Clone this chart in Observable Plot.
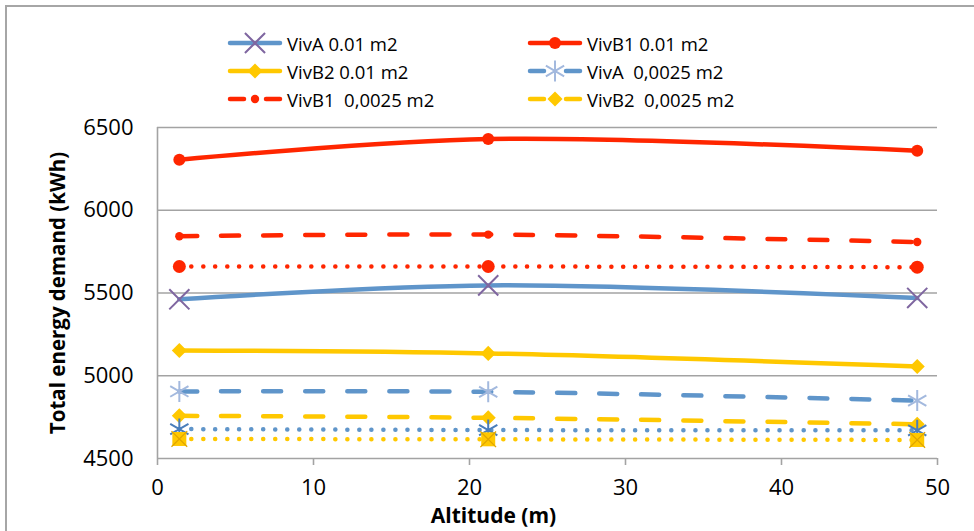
<!DOCTYPE html>
<html><head><meta charset="utf-8">
<script src="https://cdn.jsdelivr.net/npm/d3@7"></script>
<script src="https://cdn.jsdelivr.net/npm/@observablehq/plot@0.6"></script>
<style>
body{margin:0;background:#fff;font-family:"Open Sans",sans-serif;}
#wrap{position:relative;width:974px;height:531px;overflow:hidden;background:#fff;}
#frame{position:absolute;left:5px;top:5px;width:1100px;height:700px;border-left:2px solid #a6a6a6;border-top:2px solid #a6a6a6;pointer-events:none;}
#legend{position:relative;height:110px;}
.item{position:absolute;display:flex;align-items:center;height:28px;font-size:18.5px;color:#000;white-space:pre;}
.item svg{margin-right:5px;overflow:visible;}
#chart svg{display:block;}
</style></head><body>
<div id="wrap"><div id="frame"></div><div id="legend"></div><div id="chart"></div></div>
<script>
// ---- data ----
const altitudes = [1.4, 21.2, 48.7];
const seriesNames = ["VivA 0.01 m2", "VivB1 0.01 m2", "VivB2 0.01 m2",
  "VivA  0,0025 m2", "VivB1  0,0025 m2", "VivB2  0,0025 m2",
  "VivB1 (dotted)", "VivA (dotted)", "VivB2 (dotted)"];
const vivA_001   = [5462, 5546, 5470];
const vivB1_001  = [6305, 6430, 6359];
const vivB2_001  = [5153, 5135, 5056];
const vivA_0025  = [4905, 4903, 4850];
const vivB1_0025 = [5843, 5853, 5808];
const vivB2_0025 = [4758, 4746, 4707];
const vivB1_dot  = [5660, 5660, 5656];
const vivA_dot   = [4678, 4672, 4670];
const vivB2_dot  = [4618, 4616, 4612];
const seriesValues = [vivA_001, vivB1_001, vivB2_001, vivA_0025, vivB1_0025, vivB2_0025, vivB1_dot, vivA_dot, vivB2_dot];
const legendCount = 6;
const xTicks = [0, 10, 20, 30, 40, 50];
const yTicks = [4500, 5000, 5500, 6000, 6500];
const xLabel = "Altitude (m)";
const yLabel = "Total energy demand (kWh)";

// ---- styles ----
const BLUE = "#5f95ca", RED = "#ff2600", YEL = "#ffc800", PURP = "#7f66a0", LBLUE = "#a3b9de", DBLUE = "#4a7ebb";
const seriesColors = [BLUE, RED, YEL, BLUE, RED, YEL, RED, BLUE, YEL];
const seriesDash = ["solid", "solid", "solid", "dash", "dash", "dash", "dot", "dot", "dot"];
const dashArrays = {solid: null, dash: "18 24", dot: "0.1 11.9"};
const seriesMarkers = [
  [{symbol: "times", r: 9.2, fill: "none", stroke: PURP, strokeWidth: 2}],
  [{symbol: "circle", r: 6, fill: RED}],
  [{symbol: "diamond2", r: 6.8, fill: YEL}],
  [{symbol: "asterisk", r: 10, fill: "none", stroke: LBLUE, strokeWidth: 2}],
  [{symbol: "circle", r: 4.2, fill: RED}],
  [{symbol: "diamond2", r: 6.8, fill: YEL}],
  [{symbol: "circle", r: 6.5, fill: RED}],
  [{symbol: "asterisk", r: 10, fill: "none", stroke: DBLUE, strokeWidth: 2}],
  [{symbol: "square", r: 7.9, fill: YEL}, {symbol: "times", r: 7.2, fill: "none", stroke: "#e0a600", strokeWidth: 1.3}]
];

const data = [];
seriesNames.forEach((s, i) => altitudes.forEach((a, j) => data.push({series: s, idx: i, x: a, y: seriesValues[i][j]})));

const GRID = "#a3a3a3";
const marks = [
  Plot.gridY(yTicks, {stroke: GRID, strokeOpacity: 1, strokeWidth: 1.6}),
  Plot.ruleX([0], {stroke: GRID, strokeWidth: 1.6}),
  Plot.axisX({ticks: xTicks, tickSize: 7, tickPadding: 14, stroke: GRID, strokeWidth: 1.6, fill: "#000", label: null, tickFormat: d => String(d)}),
  Plot.axisY({ticks: yTicks, tickSize: 0, tickPadding: 24, fill: "#000", label: null, tickFormat: d => String(d)}),
  Plot.text([yLabel], {frameAnchor: "left", textAnchor: "middle", lineAnchor: "middle", rotate: -90, dx: -99, fontWeight: "bold", fontSize: 20.5, fill: "#000"}),
  Plot.text([xLabel], {frameAnchor: "bottom", textAnchor: "middle", lineAnchor: "middle", dx: -54, dy: 58, fontWeight: "bold", fontSize: 21, fill: "#000"})
];
seriesNames.forEach((s, i) => {
  const d = data.filter(r => r.idx === i);
  marks.push(Plot.line(d, {x: "x", y: "y", stroke: seriesColors[i], strokeWidth: 4.5,
    strokeDasharray: dashArrays[seriesDash[i]], strokeLinecap: "round", curve: "catmull-rom"}));
  seriesMarkers[i].forEach(m => marks.push(Plot.dot(d, {x: "x", y: "y", ...m})));
});

const chart = Plot.plot({
  width: 974, height: 421,
  marginLeft: 157, marginRight: 37, marginTop: 17, marginBottom: 73,
  x: {domain: [0, 50]},
  y: {domain: [4500, 6500]},
  style: {fontFamily: "'Open Sans', sans-serif", fontSize: "22px", background: "transparent", color: "#000"},
  marks
});
document.getElementById("chart").appendChild(chart);

// ---- legend ----
const symMap = {times: d3.symbolTimes, circle: d3.symbolCircle, diamond2: d3.symbolDiamond2, asterisk: d3.symbolAsterisk, square: d3.symbolSquare};
const legend = d3.select("#legend");
for (let i = 0; i < legendCount; i++) {
  const col = i % 2, row = Math.floor(i / 2);
  const item = legend.append("div").attr("class", "item")
    .style("left", (228 + col * 300) + "px").style("top", (29 + row * 28) + "px");
  const svg = item.append("svg").attr("width", 54).attr("height", 28);
  const cy = 14;
  if (seriesDash[i] === "solid") {
    svg.append("line").attr("x1", 2).attr("x2", 52).attr("y1", cy).attr("y2", cy)
      .attr("stroke", seriesColors[i]).attr("stroke-width", 4.5).attr("stroke-linecap", "round");
  } else {
    [[2, 16], [38, 52]].forEach(([a, b]) => svg.append("line").attr("x1", a).attr("x2", b).attr("y1", cy).attr("y2", cy)
      .attr("stroke", seriesColors[i]).attr("stroke-width", 4.5).attr("stroke-linecap", "round"));
  }
  seriesMarkers[i].forEach(m => {
    svg.append("path").attr("transform", `translate(27,${cy})`)
      .attr("d", d3.symbol(symMap[m.symbol], Math.PI * m.r * m.r)())
      .attr("fill", m.fill || "none").attr("stroke", m.stroke || "none").attr("stroke-width", m.strokeWidth || 0);
  });
  item.append("span").text(seriesNames[i]);
}
</script>
</body></html>
